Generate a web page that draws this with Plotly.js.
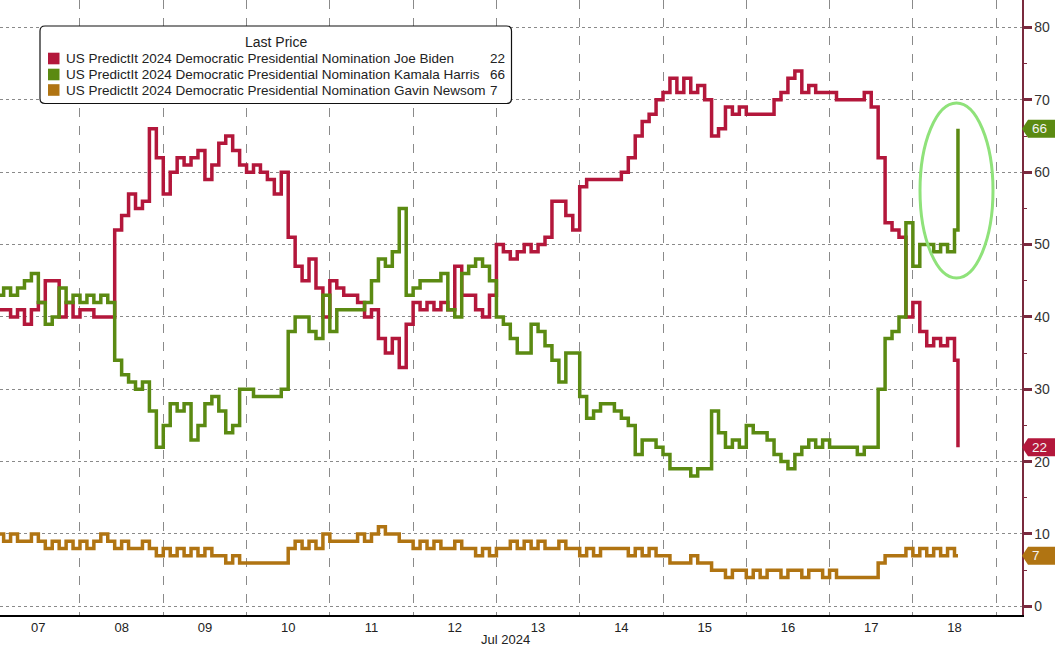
<!DOCTYPE html>
<html>
<head>
<meta charset="utf-8">
<script src="https://cdn.plot.ly/plotly-3.0.1.min.js"></script>
<style>html,body{margin:0;padding:0;background:#fff;}#chart{width:1055px;height:649px;}</style>
</head>
<body>
<div id="chart"></div>
<script>
// ---- DATA (2-hour readings, Jul 7 - Jul 18 2024) ----
var times = [
"2024-07-07 00:00","2024-07-07 02:00","2024-07-07 04:00","2024-07-07 06:00","2024-07-07 08:00","2024-07-07 10:00","2024-07-07 12:00","2024-07-07 14:00","2024-07-07 16:00","2024-07-07 18:00","2024-07-07 20:00","2024-07-07 22:00",
"2024-07-08 00:00","2024-07-08 02:00","2024-07-08 04:00","2024-07-08 06:00","2024-07-08 08:00","2024-07-08 10:00","2024-07-08 12:00","2024-07-08 14:00","2024-07-08 16:00","2024-07-08 18:00","2024-07-08 20:00","2024-07-08 22:00",
"2024-07-09 00:00","2024-07-09 02:00","2024-07-09 04:00","2024-07-09 06:00","2024-07-09 08:00","2024-07-09 10:00","2024-07-09 12:00","2024-07-09 14:00","2024-07-09 16:00","2024-07-09 18:00","2024-07-09 20:00","2024-07-09 22:00",
"2024-07-10 00:00","2024-07-10 02:00","2024-07-10 04:00","2024-07-10 06:00","2024-07-10 08:00","2024-07-10 10:00","2024-07-10 12:00","2024-07-10 14:00","2024-07-10 16:00","2024-07-10 18:00","2024-07-10 20:00","2024-07-10 22:00",
"2024-07-11 00:00","2024-07-11 02:00","2024-07-11 04:00","2024-07-11 06:00","2024-07-11 08:00","2024-07-11 10:00","2024-07-11 12:00","2024-07-11 14:00","2024-07-11 16:00","2024-07-11 18:00","2024-07-11 20:00","2024-07-11 22:00",
"2024-07-12 00:00","2024-07-12 02:00","2024-07-12 04:00","2024-07-12 06:00","2024-07-12 08:00","2024-07-12 10:00","2024-07-12 12:00","2024-07-12 14:00","2024-07-12 16:00","2024-07-12 18:00","2024-07-12 20:00","2024-07-12 22:00",
"2024-07-13 00:00","2024-07-13 02:00","2024-07-13 04:00","2024-07-13 06:00","2024-07-13 08:00","2024-07-13 10:00","2024-07-13 12:00","2024-07-13 14:00","2024-07-13 16:00","2024-07-13 18:00","2024-07-13 20:00","2024-07-13 22:00",
"2024-07-14 00:00","2024-07-14 02:00","2024-07-14 04:00","2024-07-14 06:00","2024-07-14 08:00","2024-07-14 10:00","2024-07-14 12:00","2024-07-14 14:00","2024-07-14 16:00","2024-07-14 18:00","2024-07-14 20:00","2024-07-14 22:00",
"2024-07-15 00:00","2024-07-15 02:00","2024-07-15 04:00","2024-07-15 06:00","2024-07-15 08:00","2024-07-15 10:00","2024-07-15 12:00","2024-07-15 14:00","2024-07-15 16:00","2024-07-15 18:00","2024-07-15 20:00","2024-07-15 22:00",
"2024-07-16 00:00","2024-07-16 02:00","2024-07-16 04:00","2024-07-16 06:00","2024-07-16 08:00","2024-07-16 10:00","2024-07-16 12:00","2024-07-16 14:00","2024-07-16 16:00","2024-07-16 18:00","2024-07-16 20:00","2024-07-16 22:00",
"2024-07-17 00:00","2024-07-17 02:00","2024-07-17 04:00","2024-07-17 06:00","2024-07-17 08:00","2024-07-17 10:00","2024-07-17 12:00","2024-07-17 14:00","2024-07-17 16:00","2024-07-17 18:00","2024-07-17 20:00","2024-07-17 22:00",
"2024-07-18 00:00","2024-07-18 02:00","2024-07-18 04:00","2024-07-18 06:00","2024-07-18 08:00","2024-07-18 10:00","2024-07-18 12:00","2024-07-18 13:00"
];
var biden = [
41,41,40,41,39,41,42,45,45,40,42,40,
41,41,40,40,40,52,54,57,55,56,66,62,
57,60,62,61,62,63,59,61,64,65,63,61,
60,61,60,59,57,60,51,47,45,48,44,40,
45,44,43,43,42,40,41,37,35,37,33,39,
42,41,42,41,42,41,47,43,43,41,40,43,
50,49,48,49,50,49,50,51,56,56,54,52,
58,59,59,59,59,59,60,62,65,67,68,70,
71,73,71,73,71,72,70,65,66,69,68,69,
68,68,68,68,70,71,73,74,71,72,71,71,
71,70,70,70,70,71,69,62,53,52,51,40,
42,38,36,37,36,37,34,22
];
var harris = [
43,44,43,44,45,46,42,39,40,44,42,43,
42,43,42,43,42,34,32,31,30,31,27,22,
25,28,27,28,23,25,28,29,27,24,25,30,
30,29,29,29,29,30,38,40,40,38,37,43,
38,41,41,41,41,42,45,48,47,49,55,43,
44,45,45,45,46,41,40,46,47,48,47,45,
40,39,37,35,35,39,38,36,34,31,35,35,
29,26,27,28,28,27,26,25,21,23,23,22,
21,19,19,19,18,19,19,27,24,22,23,22,
25,24,24,23,21,20,19,21,22,23,22,23,
22,22,22,22,21,22,22,30,37,38,40,53,
47,50,50,49,50,49,52,66
];
var newsom = [
10,9,10,9,9,10,9,8,9,8,9,8,
9,8,9,10,9,8,9,8,8,9,8,7,
8,7,8,7,8,7,8,7,7,6,7,6,
6,6,6,6,6,6,8,9,8,9,8,10,
9,9,9,9,10,9,10,11,10,10,9,9,
8,9,8,9,8,8,9,8,8,7,8,7,
8,8,9,8,9,8,9,8,8,9,8,8,
7,8,7,8,8,8,8,7,8,7,8,7,
7,6,6,6,7,6,6,5,5,4,5,5,
4,5,4,5,5,4,5,5,4,5,5,4,
5,4,4,4,4,4,4,6,7,7,7,8,
7,8,7,8,7,8,7,7
];
var seriesNames = [
  "US PredictIt 2024 Democratic Presidential Nomination Joe Biden",
  "US PredictIt 2024 Democratic Presidential Nomination Kamala Harris",
  "US PredictIt 2024 Democratic Presidential Nomination Gavin Newsom"
];
var legendTitle = "Last Price";
var axisMonthLabel = "Jul 2024";
var yTicks = [0,10,20,30,40,50,60,70,80];

// ---- STYLE ----
var colors = ["#b3173b", "#5b8a12", "#b07412"];
var W = 1055, H = 649, ML = 0, MR = 33, MT = 0, MB = 34;
var PW = W - ML - MR, PH = H - MT - MB;
var yMin = -1.2, yMax = 83.8;
function px(x){ return (x - ML) / PW; }
function py(y){ return (H - MB - y) / PH; }
function vy(v){ return (v - yMin) / (yMax - yMin); }

var allSeries = [biden, harris, newsom];
var traces = [0,1,2].map(function(i){
  return {
    type: "scatter", mode: "lines", x: times, y: allSeries[i],
    line: {color: colors[i], width: 3.5, shape: "hv"},
    name: seriesNames[i], showlegend: false, hoverinfo: "skip"
  };
});
// draw Newsom, Biden, then Harris on top
traces = [traces[2], traces[0], traces[1]];

var shapes = [], annotations = [];
var FONT = "Liberation Sans, Arial, sans-serif";

// Legend box with rounded corners
(function(){
  var x0 = px(40), x1 = px(511.5), y0 = py(103.5), y1 = py(26);
  var rx = 5 / PW, ry = 5 / PH;
  var p = "M " + (x0+rx) + "," + y1 + " L " + (x1-rx) + "," + y1 +
          " Q " + x1 + "," + y1 + " " + x1 + "," + (y1-ry) +
          " L " + x1 + "," + (y0+ry) + " Q " + x1 + "," + y0 + " " + (x1-rx) + "," + y0 +
          " L " + (x0+rx) + "," + y0 + " Q " + x0 + "," + y0 + " " + x0 + "," + (y0+ry) +
          " L " + x0 + "," + (y1-ry) + " Q " + x0 + "," + y1 + " " + (x0+rx) + "," + y1 + " Z";
  shapes.push({type: "path", xref: "paper", yref: "paper", path: p,
    fillcolor: "#ffffff", line: {color: "#111", width: 1.2}, layer: "above"});
})();
annotations.push({xref: "paper", yref: "paper", x: px(275.5), y: py(42.5), text: legendTitle,
  showarrow: false, xanchor: "center", yanchor: "middle", font: {family: FONT, size: 14, color: "#222"}});
var rowY = [58.5, 74.5, 90];
for (var i = 0; i < 3; i++) {
  var arr = allSeries[i];
  shapes.push({type: "rect", xref: "paper", yref: "paper",
    x0: px(48), x1: px(59.5), y0: py(rowY[i] + 5.8), y1: py(rowY[i] - 5.8),
    fillcolor: colors[i], line: {width: 0}, layer: "above"});
  annotations.push({xref: "paper", yref: "paper", x: px(63.5), y: py(rowY[i]), text: seriesNames[i],
    showarrow: false, xanchor: "left", yanchor: "middle", font: {family: FONT, size: 13.5, color: "#222"}});
  annotations.push({xref: "paper", yref: "paper", x: px(487.5), y: py(rowY[i]), text: String(arr[arr.length-1]),
    showarrow: false, xanchor: "left", yanchor: "middle", font: {family: FONT, size: 13.5, color: "#222"}});
}

// Last value tags on right axis
for (var j = 0; j < 3; j++) {
  var a = allSeries[j], v = a[a.length-1], cy = vy(v);
  var hh = 9 / PH, xl = 1.0, xc = px(ML + PW + 6), xr = px(W + 2);
  var path = "M " + xl + "," + cy + " L " + xc + "," + (cy+hh) + " L " + xr + "," + (cy+hh) +
             " L " + xr + "," + (cy-hh) + " L " + xc + "," + (cy-hh) + " Z";
  shapes.push({type: "path", xref: "paper", yref: "paper", path: path,
    fillcolor: colors[j], line: {width: 0}, layer: "above"});
  annotations.push({xref: "paper", yref: "paper", x: px(ML + PW + 8), y: cy, text: String(v),
    showarrow: false, xanchor: "left", yanchor: "middle", font: {family: FONT, size: 13.5, color: "#f4f4f4"}});
}

// Highlight ellipse
shapes.push({type: "circle", xref: "paper", yref: "paper",
  x0: px(920), x1: px(993), y0: py(278), y1: py(103),
  line: {color: "#8fe27a", width: 3}, fillcolor: "rgba(0,0,0,0)", layer: "above"});

annotations.push({xref: "paper", yref: "paper", x: px(505), y: py(640), text: axisMonthLabel,
  showarrow: false, xanchor: "center", yanchor: "middle",
  font: {family: "Liberation Sans Narrow, Liberation Sans, Arial, sans-serif", size: 13, color: "#222"}});

var layout = {
  width: W, height: H,
  margin: {l: ML, r: MR, t: MT, b: MB, pad: 0},
  paper_bgcolor: "#ffffff", plot_bgcolor: "#ffffff",
  showlegend: false,
  xaxis: {
    type: "date",
    range: ["2024-07-07 00:57", "2024-07-19 07:27"],
    tick0: "2024-07-07", dtick: 86400000, tickformat: "%d", ticklabelmode: "period",
    ticks: "", showgrid: true, gridcolor: "#8a8a8a", gridwidth: 1, griddash: "dash",
    showline: true, linecolor: "#000", linewidth: 1.5, zeroline: false,
    tickfont: {family: "Liberation Sans Narrow, Liberation Sans, Arial, sans-serif", size: 13, color: "#222"},
    fixedrange: true
  },
  yaxis: {
    side: "right", range: [yMin, yMax], tickvals: yTicks, ticktext: yTicks.map(String),
    showgrid: true, gridcolor: "#8a8a8a", gridwidth: 1, griddash: "dot",
    showline: true, linecolor: "#7a2a3e", linewidth: 1.5, zeroline: false,
    ticks: "outside", ticklen: 8, tickwidth: 3, tickcolor: "#7a2a3e",
    minor: {dtick: 5, tick0: 0, ticks: "outside", ticklen: 3, tickwidth: 1, tickcolor: "#7a2a3e", showgrid: false},
    tickfont: {family: FONT, size: 14, color: "#333"},
    fixedrange: true
  },
  shapes: shapes,
  annotations: annotations
};

Plotly.newPlot("chart", traces, layout, {staticPlot: true, displayModeBar: false});
</script>
</body>
</html>
